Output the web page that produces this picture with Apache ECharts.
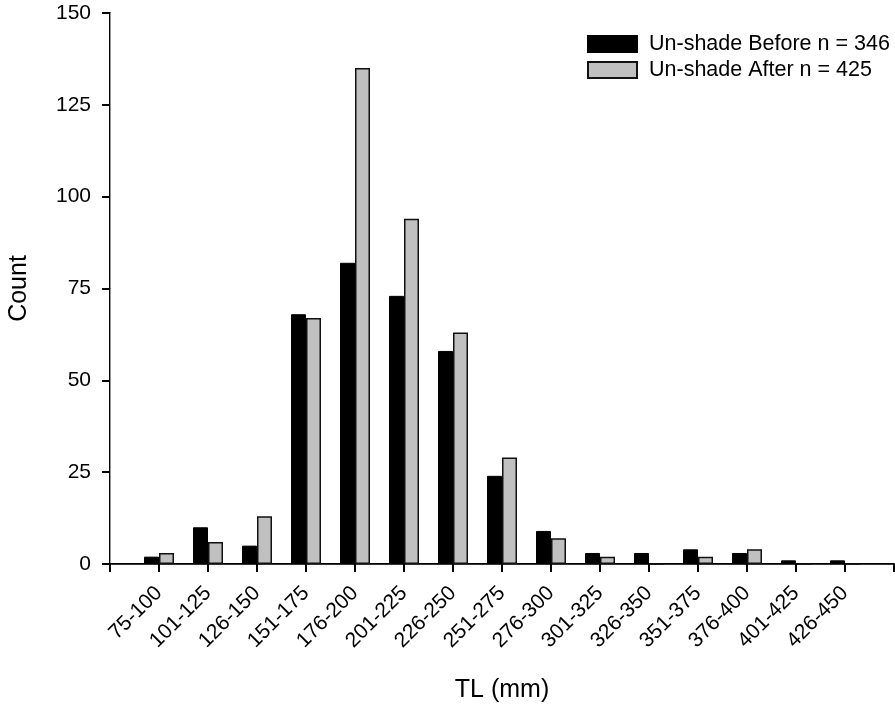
<!DOCTYPE html>
<html>
<head>
<meta charset="utf-8">
<script src="https://cdn.jsdelivr.net/npm/echarts@6/dist/echarts.min.js"></script>
<style>html,body{margin:0;padding:0;background:#fff}#c{width:895px;height:707px}</style>
</head>
<body>
<div id="c"></div>
<script>
const categories = ['75-100','101-125','126-150','151-175','176-200','201-225','226-250','251-275','276-300','301-325','326-350','351-375','376-400','401-425','426-450'];
const beforeValues = [2,10,5,68,82,73,58,24,9,3,3,4,3,1,1];
const afterValues = [3,6,13,67,135,94,63,29,7,2,0,2,4,0,0];
const seriesNames = ['Un-shade Before n = 346','Un-shade After n = 425'];
const yTicks = [0,25,50,75,100,125,150];

const FONT = "'Liberation Sans', Arial, sans-serif";
const chart = echarts.init(document.getElementById('c'), null, {renderer:'canvas'});
const toPts = arr => arr.map((v,i)=>[i+1, v]);
chart.setOption({
  animation:false,
  backgroundColor:'#fff',
  textStyle:{fontFamily:FONT},
  grid:{left:110, right:1, top:13, bottom:143, containLabel:false, outerBoundsMode:'none'},
  legend:{
    orient:'vertical', left:587, top:33, padding:0, itemWidth:49, itemHeight:16, itemGap:4,
    icon:'rect',
    textStyle:{fontFamily:FONT, fontSize:21.5, color:'#000', padding:[0,0,0,7]},
    data:seriesNames
  },
  xAxis:[{
    type:'value', min:0, max:categories.length+1, interval:1,
    name:'TL (mm)', nameLocation:'middle', nameGap:114,
    nameTextStyle:{fontFamily:FONT, fontSize:25, color:'#000'},
    axisLine:{show:true, onZero:false, lineStyle:{color:'#000', width:2}},
    axisTick:{show:true, inside:false, length:8, lineStyle:{color:'#000', width:2}},
    splitLine:{show:false},
    axisLabel:{rotate:45, margin:26, fontFamily:FONT, fontSize:21, color:'#000',
      formatter:v => categories[v-1] || ''}
  },{
    type:'value', min:0, max:categories.length+1, position:'top',
    axisLine:{show:true, lineStyle:{color:'#333', width:1}},
    axisTick:{show:false}, axisLabel:{show:false}, splitLine:{show:false}
  }],
  yAxis:[{
    type:'value', min:0, max:150, interval:25,
    name:'Count', nameLocation:'middle', nameGap:78,
    nameTextStyle:{fontFamily:FONT, fontSize:25, color:'#000'},
    axisLine:{show:true, lineStyle:{color:'#000', width:2}},
    axisTick:{show:true, inside:false, length:8, lineStyle:{color:'#000', width:2}},
    splitLine:{show:false},
    axisLabel:{margin:19, fontFamily:FONT, fontSize:21, color:'#000',
      formatter:v => yTicks.includes(v) ? String(v) : ''}
  },{
    type:'value', min:0, max:150, position:'right',
    axisLine:{show:true, lineStyle:{color:'#999', width:1}},
    axisTick:{show:false}, axisLabel:{show:false}, splitLine:{show:false}
  }],
  series:[{
    name:seriesNames[0], type:'bar', data:toPts(beforeValues),
    barWidth:15, barGap:'0%',
    itemStyle:{color:'#000', borderColor:'#000', borderWidth:1}
  },{
    name:seriesNames[1], type:'bar', data:toPts(afterValues),
    barWidth:15, barGap:'0%',
    itemStyle:{color:'#c0c0c0', borderColor:'#111', borderWidth:1.5}
  }]
});
</script>
</body>
</html>
